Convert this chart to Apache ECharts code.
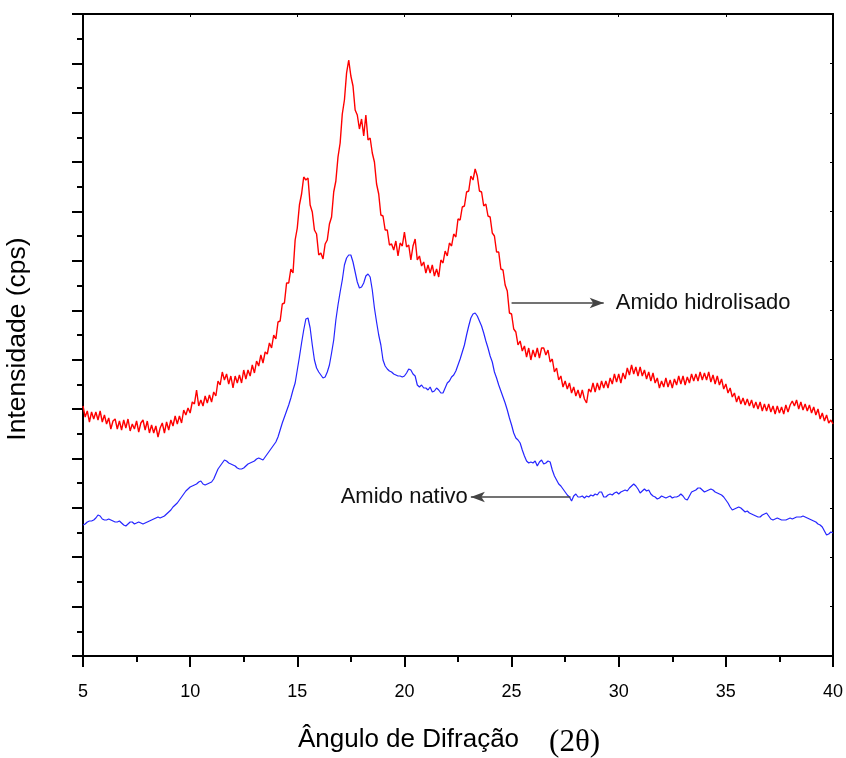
<!DOCTYPE html>
<html>
<head>
<meta charset="utf-8">
<script src="https://cdn.jsdelivr.net/npm/echarts@6/dist/echarts.min.js"></script>
<style>html,body{margin:0;padding:0;background:#fff}#c{width:846px;height:758px}</style>
</head>
<body>
<div id="c"></div>
<script>
// Sampling grid of the diffractogram (2θ, degrees)
const angleStart = 5;
const angleStep = 0.1;
const xTicks = [5, 10, 15, 20, 25, 30, 35, 40];

// Amido hidrolisado (red), intensity in arbitrary units, one value per 0.1°
const hidrolisado = [
 250,239,245,234,244,237,244,236,245,234,
 241,232,238,227,235,237,227,235,226,236,
 228,237,225,232,227,235,224,233,236,226,
 235,223,231,223,230,219,228,233,223,234,
 226,236,230,240,232,240,233,246,241,248,
 243,254,252,266,250,256,250,260,253,261,
 254,264,260,275,271,284,276,282,272,280,
 268,280,273,281,273,286,277,286,280,291,
 283,295,290,301,293,304,302,313,308,321,
 317,334,335,352,353,373,373,387,383,416,
 428,451,462,479,476,478,451,444,426,422,
 401,403,397,412,416,432,439,464,475,499,
 513,542,556,583,596,580,570,546,541,527,
 537,520,541,516,518,503,494,472,462,441,
 440,426,426,411,412,406,415,400,413,410,
 424,409,411,396,410,417,396,400,390,394,
 383,391,383,391,380,387,379,396,393,405,
 400,413,410,422,419,437,436,449,450,464,
 465,480,476,487,480,465,464,450,452,440,
 439,423,420,404,404,387,386,371,365,343,
 342,327,324,311,315,305,310,299,308,296,
 306,299,308,298,308,308,301,306,294,297,
 284,288,276,280,269,275,267,273,263,269,
 260,266,258,266,257,253,267,264,273,264,
 273,266,275,268,275,268,278,272,282,274,
 282,273,283,277,288,281,291,282,289,280,
 289,280,286,277,284,275,283,273,278,268,
 275,269,278,269,276,268,277,271,280,272,
 280,271,279,273,282,275,282,275,284,276,
 283,276,284,274,281,272,280,271,277,267,
 272,263,268,259,263,254,260,252,258,251,
 257,250,256,248,254,247,254,245,252,245,
 252,244,250,242,250,243,249,242,251,244,
 251,255,250,256,247,254,246,252,245,251,
 243,249,241,247,237,243,235,241,233,236,
 232
];

// Amido nativo (blue), same grid
const nativo = [
 131,132,134,135,135,136,138,141,140,137,
 136,136,137,136,135,134,134,135,133,131,
 130,132,134,134,132,133,134,133,132,133,
 134,135,136,137,138,139,138,139,140,142,
 144,146,149,151,153,156,159,162,165,167,
 169,170,171,172,174,175,172,171,172,173,
 174,177,182,187,190,193,196,195,193,192,
 191,190,188,187,187,188,190,192,193,194,
 195,197,198,197,196,199,202,205,208,211,
 214,219,226,233,239,245,251,258,266,273,
 286,299,313,326,337,338,328,311,296,288,
 284,281,278,279,284,291,303,316,336,351,
 364,376,391,398,401,401,394,384,374,368,
 369,373,380,382,379,366,348,334,321,311,
 296,290,287,285,284,282,281,280,280,279,
 280,283,287,286,282,280,271,269,271,268,
 268,266,269,264,265,268,266,263,263,268,
 273,275,279,281,285,291,297,304,311,321,
 330,338,342,343,340,335,330,323,315,308,
 300,294,284,278,271,265,259,253,246,238,
 231,223,218,216,213,206,200,195,193,194,
 193,195,190,194,196,192,193,195,194,186,
 180,176,172,170,167,164,161,159,155,160,
 162,159,159,160,158,160,159,161,160,162,
 161,164,164,159,159,161,162,161,163,164,
 162,164,165,166,165,168,170,172,170,167,
 163,165,167,165,166,162,160,159,157,158,
 160,159,158,159,160,158,159,159,160,162,
 160,157,156,160,164,165,166,168,168,166,
 164,165,166,167,166,164,163,162,161,159,
 156,153,149,146,147,148,149,148,146,144,
 145,143,142,141,140,139,139,141,142,143,
 140,137,136,137,138,137,136,136,136,137,
 138,137,138,139,139,139,140,139,138,137,
 136,135,134,132,131,129,125,121,122,124,
 123
];

// Annotation arrows: [from 2θ, to 2θ, intensity]
const arrowHidrolisado = [25.0, 29.3, 353];
const arrowNativo = [27.75, 23.1, 159];

const yMax = 642;          // arbitrary intensity scale (no labels in the original)
const yMajorCount = 13;
const yStep = yMax / yMajorCount;

const toPairs = arr => arr.map((v, i) => [+(angleStart + i * angleStep).toFixed(1), v]);

const sans = '"Liberation Sans", Arial, sans-serif';
const chart = echarts.init(document.getElementById('c'), null, {renderer: 'canvas'});

const baseX = {
  type: 'value', min: xTicks[0], max: xTicks[xTicks.length - 1], interval: 5,
  splitLine: {show: false}
};
const baseY = {
  type: 'value', min: 0, max: yStep * yMajorCount, interval: yStep,
  splitLine: {show: false}
};

chart.setOption({
  animation: false,
  backgroundColor: '#fff',
  grid: {left: 83, right: 13, top: 14, bottom: 102, containLabel: false, outerBoundsMode: 'none'},
  xAxis: [
    Object.assign({}, baseX, {
      position: 'bottom',
      axisLine: {show: true, onZero: false, lineStyle: {color: '#000', width: 2}},
      axisTick: {show: true, inside: false, length: 11, lineStyle: {color: '#000', width: 2}},
      minorTick: {show: true, splitNumber: 2, length: 6, lineStyle: {color: '#000', width: 2}},
      axisLabel: {show: true, margin: 27, fontSize: 18, fontFamily: sans, color: '#000'},
      name: '{a|Ângulo de Difração}{b|(2θ)}',
      nameLocation: 'middle',
      nameGap: 71,
      nameTextStyle: {
        padding: [0, 18, 0, 0],
        rich: {
          a: {fontSize: 26, fontFamily: sans, color: '#000', verticalAlign: 'bottom', padding: [0, 0, 5, 0]},
          b: {fontSize: 31, fontFamily: '"Liberation Serif", "Times New Roman", serif', color: '#000', verticalAlign: 'bottom', padding: [0, 0, 0, 30]}
        }
      }
    }),
    Object.assign({}, baseX, {
      position: 'top',
      axisLine: {show: true, onZero: false, lineStyle: {color: '#000', width: 2}},
      axisTick: {show: true, inside: true, length: 3, lineStyle: {color: '#000', width: 1}},
      axisLabel: {show: false}
    })
  ],
  yAxis: [
    Object.assign({}, baseY, {
      position: 'left',
      axisLine: {show: true, onZero: false, lineStyle: {color: '#000', width: 2}},
      axisTick: {show: true, inside: false, length: 11, lineStyle: {color: '#000', width: 2}},
      minorTick: {show: true, splitNumber: 2, length: 6, lineStyle: {color: '#000', width: 2}},
      axisLabel: {show: false},
      name: 'Intensidade (cps)',
      nameLocation: 'middle',
      nameGap: 52,
      nameTextStyle: {fontSize: 26.5, fontFamily: sans, color: '#000', padding: [0, 8, 0, 0]}
    }),
    Object.assign({}, baseY, {
      position: 'right',
      axisLine: {show: true, onZero: false, lineStyle: {color: '#000', width: 2}},
      axisTick: {show: true, inside: true, length: 3, lineStyle: {color: '#000', width: 1}},
      axisLabel: {show: false}
    })
  ],
  series: [
    {
      name: 'Amido hidrolisado', type: 'line', xAxisIndex: 0, yAxisIndex: 0,
      data: toPairs(hidrolisado), showSymbol: false, symbol: 'none', sampling: false,
      lineStyle: {color: '#ff0000', width: 1.4}, z: 3,
      markLine: {
        silent: true, animation: false,
        symbol: ['none', 'arrow'], symbolSize: [8, 14],
        lineStyle: {color: '#444', width: 1.6, type: 'solid'},
        label: {show: true, position: 'end', distance: 12, formatter: 'Amido hidrolisado',
                fontSize: 22, fontFamily: sans, color: '#111'},
        data: [[{coord: [arrowHidrolisado[0], arrowHidrolisado[2]]}, {coord: [arrowHidrolisado[1], arrowHidrolisado[2]]}]]
      }
    },
    {
      name: 'Amido nativo', type: 'line', xAxisIndex: 0, yAxisIndex: 0,
      data: toPairs(nativo), showSymbol: false, symbol: 'none', sampling: false,
      lineStyle: {color: '#2525ff', width: 1.2}, z: 3,
      markLine: {
        silent: true, animation: false,
        symbol: ['none', 'arrow'], symbolSize: [8, 14],
        lineStyle: {color: '#444', width: 1.6, type: 'solid'},
        label: {show: true, position: 'end', distance: 3, formatter: 'Amido nativo',
                fontSize: 22, fontFamily: sans, color: '#111'},
        data: [[{coord: [arrowNativo[0], arrowNativo[2]]}, {coord: [arrowNativo[1], arrowNativo[2]]}]]
      }
    }
  ]
});
</script>
</body>
</html>
